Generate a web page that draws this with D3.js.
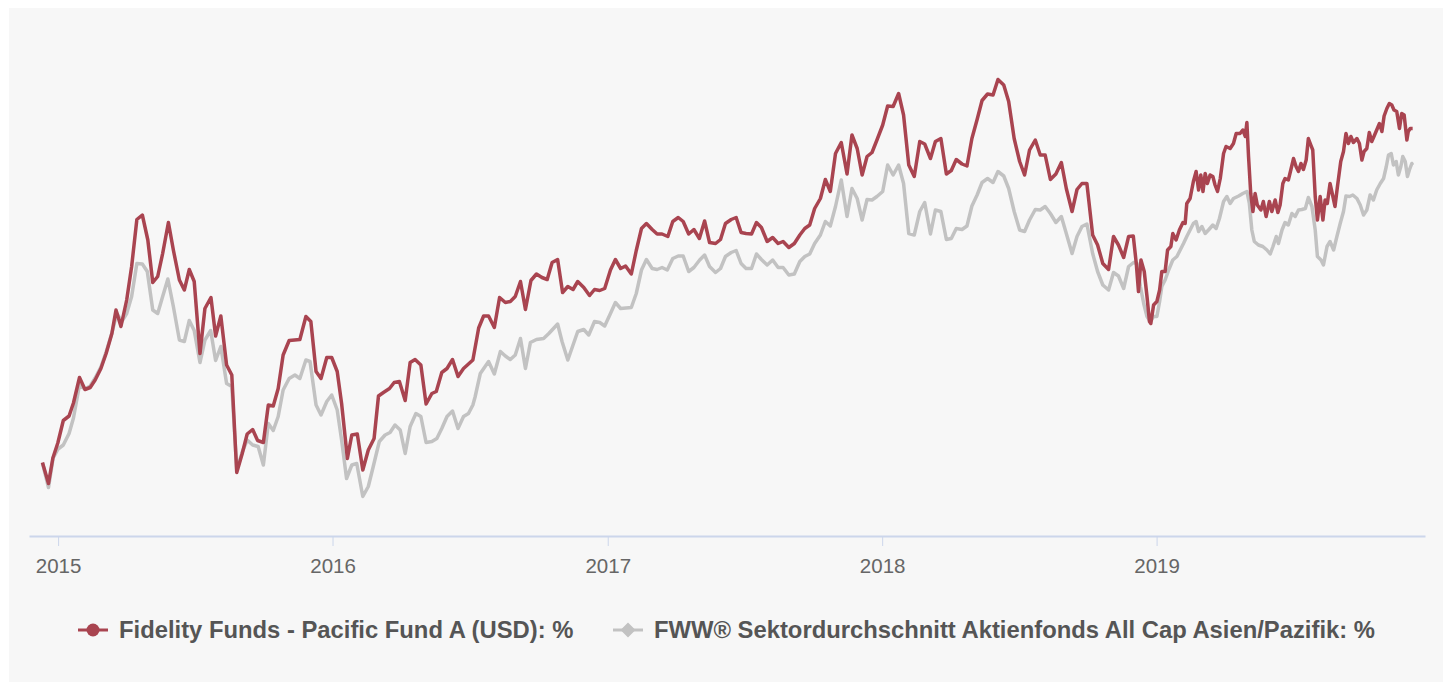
<!DOCTYPE html>
<html>
<head>
<meta charset="utf-8">
<script src="https://cdnjs.cloudflare.com/ajax/libs/d3/7.8.5/d3.min.js"></script>
<style>
  html, body { margin: 0; padding: 0; background: #fff; }
  svg { display: block; font-family: "Liberation Sans", Arial, Helvetica, sans-serif; }
</style>
</head>
<body>
<svg id="chart" width="1451" height="682"></svg>
<script>
// time is stored as decimal years, values are cumulative performance in %
const fundTime = [
  2014.943, 2014.965, 2014.981, 2014.999, 2015.019, 2015.040, 2015.056, 2015.078, 2015.098, 2015.117,
  2015.135, 2015.156, 2015.175, 2015.196, 2015.211, 2015.229, 2015.250, 2015.268, 2015.287, 2015.307,
  2015.327, 2015.345, 2015.363, 2015.381, 2015.402, 2015.420, 2015.442, 2015.460, 2015.478, 2015.496,
  2015.517, 2015.535, 2015.557, 2015.574, 2015.593, 2015.614, 2015.633, 2015.651, 2015.671, 2015.689,
  2015.709, 2015.727, 2015.748, 2015.766, 2015.784, 2015.802, 2015.820, 2015.842, 2015.881, 2015.903,
  2015.921, 2015.940, 2015.958, 2015.979, 2015.997, 2016.017, 2016.033, 2016.054, 2016.070, 2016.090,
  2016.110, 2016.130, 2016.151, 2016.167, 2016.185, 2016.207, 2016.224, 2016.243, 2016.264, 2016.282,
  2016.300, 2016.321, 2016.340, 2016.361, 2016.377, 2016.397, 2016.416, 2016.436, 2016.456, 2016.476,
  2016.510, 2016.531, 2016.549, 2016.567, 2016.588, 2016.607, 2016.628, 2016.646, 2016.664, 2016.683,
  2016.701, 2016.721, 2016.741, 2016.761, 2016.780, 2016.798, 2016.818, 2016.836, 2016.855, 2016.874,
  2016.891, 2016.913, 2016.934, 2016.952, 2016.971, 2016.989, 2017.010, 2017.028, 2017.047, 2017.065,
  2017.086, 2017.104, 2017.123, 2017.141, 2017.162, 2017.180, 2017.198, 2017.219, 2017.237, 2017.257,
  2017.275, 2017.295, 2017.314, 2017.334, 2017.353, 2017.371, 2017.393, 2017.411, 2017.429, 2017.450,
  2017.468, 2017.486, 2017.504, 2017.524, 2017.542, 2017.560, 2017.581, 2017.601, 2017.621, 2017.639,
  2017.660, 2017.680, 2017.700, 2017.718, 2017.736, 2017.754, 2017.775, 2017.793, 2017.811, 2017.830,
  2017.851, 2017.872, 2017.890, 2017.909, 2017.927, 2017.945, 2017.963, 2017.981, 2018.002, 2018.020,
  2018.040, 2018.060, 2018.078, 2018.097, 2018.117, 2018.137, 2018.155, 2018.176, 2018.194, 2018.214,
  2018.234, 2018.252, 2018.270, 2018.291, 2018.309, 2018.327, 2018.346, 2018.364, 2018.384, 2018.404,
  2018.422, 2018.443, 2018.461, 2018.481, 2018.501, 2018.519, 2018.537, 2018.558, 2018.576, 2018.594,
  2018.613, 2018.633, 2018.653, 2018.671, 2018.692, 2018.710, 2018.728, 2018.746, 2018.767, 2018.785,
  2018.804, 2018.825, 2018.843, 2018.861, 2018.880, 2018.898, 2018.915, 2018.926, 2018.934, 2018.943,
  2018.955, 2018.965, 2018.974, 2018.979, 2018.989, 2019.001, 2019.011, 2019.019, 2019.031, 2019.040,
  2019.052, 2019.059, 2019.071, 2019.083, 2019.096, 2019.104, 2019.110, 2019.122, 2019.134, 2019.144,
  2019.153, 2019.161, 2019.169, 2019.177, 2019.185, 2019.195, 2019.205, 2019.213, 2019.222, 2019.232,
  2019.244, 2019.253, 2019.268, 2019.280, 2019.290, 2019.304, 2019.314, 2019.323, 2019.329, 2019.335,
  2019.343, 2019.351, 2019.359, 2019.367, 2019.380, 2019.389, 2019.399, 2019.411, 2019.420, 2019.432,
  2019.442, 2019.450, 2019.460, 2019.468, 2019.480, 2019.489, 2019.499, 2019.508, 2019.517, 2019.526,
  2019.535, 2019.545, 2019.553, 2019.562, 2019.569, 2019.578, 2019.586, 2019.596, 2019.606, 2019.614,
  2019.622, 2019.632, 2019.642, 2019.650, 2019.659, 2019.671, 2019.681, 2019.690, 2019.699, 2019.708,
  2019.717, 2019.730, 2019.739, 2019.748, 2019.756, 2019.766, 2019.775, 2019.784, 2019.792, 2019.802,
  2019.812, 2019.821, 2019.829, 2019.839, 2019.848, 2019.857, 2019.865, 2019.875, 2019.885, 2019.893,
  2019.902, 2019.912, 2019.917, 2019.924, 2019.933
];
const fundValues = [
  0.1, -4.1, 1.0, 4.0, 8.5, 9.4, 12.0, 17.1, 14.7, 15.1,
  16.6, 18.9, 21.9, 25.9, 30.6, 27.3, 32.6, 39.3, 48.7, 49.6,
  44.6, 36.1, 37.3, 41.9, 48.1, 42.6, 36.6, 34.6, 38.7, 36.3,
  21.9, 30.9, 33.1, 25.4, 29.4, 19.6, 17.6, -1.9, 1.9, 5.8,
  6.7, 4.5, 4.1, 11.6, 11.4, 14.9, 21.6, 24.5, 24.7, 29.3,
  28.3, 18.3, 16.9, 21.1, 21.1, 18.3, 11.9, 0.9, 5.6, 5.8,
  -1.4, 2.6, 4.9, 13.4, 14.1, 14.9, 16.1, 16.3, 12.5, 20.1,
  20.7, 19.6, 11.8, 13.9, 14.3, 18.1, 18.9, 20.7, 17.3, 18.9,
  20.6, 27.0, 29.4, 29.4, 27.1, 33.1, 32.1, 32.3, 33.3, 36.3,
  30.7, 36.5, 37.8, 37.1, 36.7, 40.1, 40.7, 34.1, 35.3, 34.7,
  36.3, 35.1, 33.5, 34.7, 34.5, 34.9, 38.6, 40.7, 38.9, 39.4,
  37.8, 42.5, 46.9, 47.9, 46.7, 45.8, 45.8, 45.3, 48.3, 49.1,
  48.3, 45.8, 46.7, 44.9, 48.4, 44.1, 43.9, 44.7, 47.9, 48.7,
  49.1, 46.1, 45.9, 45.8, 48.1, 47.1, 44.3, 45.1, 43.9, 44.3,
  43.1, 43.9, 45.6, 46.9, 47.6, 50.9, 52.9, 56.7, 54.3, 61.9,
  64.1, 57.8, 65.6, 62.9, 57.6, 61.3, 62.1, 64.6, 67.6, 71.4,
  71.3, 73.9, 69.6, 59.6, 57.3, 64.3, 63.8, 60.9, 64.3, 64.9,
  57.8, 58.5, 60.7, 59.8, 59.4, 64.9, 68.7, 72.5, 73.8, 73.6,
  76.7, 75.6, 72.3, 64.9, 60.3, 57.6, 62.6, 64.6, 61.6, 61.6,
  56.7, 57.8, 60.1, 54.9, 50.3, 54.7, 55.9, 55.9, 45.6, 43.6,
  39.9, 38.7, 45.3, 43.6, 41.1, 45.3, 45.4, 39.9, 34.3, 40.6,
  38.3, 33.3, 28.3, 27.9, 31.6, 32.3, 34.6, 38.3, 38.3, 42.6,
  43.3, 45.9, 44.6, 46.6, 48.1, 47.9, 51.9, 52.9, 56.3, 58.3,
  54.6, 57.6, 54.3, 57.9, 55.9, 57.6, 57.3, 55.6, 54.3, 56.9,
  61.9, 63.3, 62.9, 63.9, 65.9, 65.9, 66.6, 65.3, 68.1, 61.3,
  53.9, 50.3, 53.9, 51.6, 50.6, 52.3, 49.3, 52.3, 50.3, 52.6,
  50.1, 51.6, 55.9, 56.9, 56.6, 58.6, 60.9, 59.3, 58.3, 59.9,
  58.7, 60.6, 64.9, 63.6, 62.6, 53.3, 48.6, 53.3, 48.6, 52.6,
  51.9, 55.9, 53.4, 51.3, 55.3, 60.3, 62.3, 65.9, 63.9, 65.3,
  64.1, 64.9, 63.9, 60.6, 62.3, 62.9, 66.1, 64.3, 65.3, 66.6,
  67.9, 66.3, 69.4, 70.9, 71.9, 71.6, 70.6, 70.3, 66.9, 69.9,
  69.6, 64.6, 66.3, 66.9, 66.9
];

const sectorTime = [
  2014.943, 2014.965, 2014.982, 2015.000, 2015.019, 2015.040, 2015.056, 2015.078, 2015.098, 2015.117,
  2015.135, 2015.156, 2015.175, 2015.196, 2015.214, 2015.232, 2015.250, 2015.268, 2015.287, 2015.307,
  2015.325, 2015.345, 2015.363, 2015.381, 2015.400, 2015.420, 2015.442, 2015.460, 2015.478, 2015.496,
  2015.517, 2015.535, 2015.556, 2015.574, 2015.593, 2015.614, 2015.633, 2015.651, 2015.671, 2015.689,
  2015.709, 2015.729, 2015.748, 2015.766, 2015.784, 2015.802, 2015.820, 2015.842, 2015.863, 2015.881,
  2015.903, 2015.918, 2015.940, 2015.958, 2015.979, 2015.997, 2016.017, 2016.033, 2016.051, 2016.070,
  2016.088, 2016.110, 2016.130, 2016.148, 2016.170, 2016.191, 2016.209, 2016.227, 2016.246, 2016.264,
  2016.282, 2016.303, 2016.321, 2016.340, 2016.361, 2016.379, 2016.397, 2016.416, 2016.436, 2016.456,
  2016.476, 2016.494, 2016.510, 2016.518, 2016.537, 2016.567, 2016.588, 2016.610, 2016.628, 2016.646,
  2016.664, 2016.683, 2016.701, 2016.719, 2016.741, 2016.767, 2016.786, 2016.818, 2016.834, 2016.855,
  2016.874, 2016.891, 2016.913, 2016.931, 2016.952, 2016.971, 2016.989, 2017.010, 2017.028, 2017.047,
  2017.086, 2017.104, 2017.123, 2017.141, 2017.162, 2017.180, 2017.198, 2017.217, 2017.237, 2017.257,
  2017.275, 2017.295, 2017.314, 2017.335, 2017.353, 2017.371, 2017.393, 2017.411, 2017.429, 2017.450,
  2017.468, 2017.486, 2017.504, 2017.524, 2017.542, 2017.560, 2017.581, 2017.601, 2017.621, 2017.639,
  2017.660, 2017.680, 2017.700, 2017.718, 2017.736, 2017.754, 2017.775, 2017.793, 2017.811, 2017.830,
  2017.851, 2017.872, 2017.890, 2017.909, 2017.927, 2017.945, 2017.963, 2017.981, 2018.002, 2018.020,
  2018.040, 2018.060, 2018.078, 2018.097, 2018.117, 2018.137, 2018.155, 2018.176, 2018.194, 2018.214,
  2018.234, 2018.252, 2018.270, 2018.291, 2018.309, 2018.327, 2018.346, 2018.364, 2018.384, 2018.404,
  2018.422, 2018.443, 2018.461, 2018.481, 2018.501, 2018.519, 2018.537, 2018.558, 2018.576, 2018.594,
  2018.613, 2018.633, 2018.653, 2018.671, 2018.692, 2018.710, 2018.728, 2018.746, 2018.767, 2018.785,
  2018.804, 2018.825, 2018.843, 2018.861, 2018.880, 2018.898, 2018.916, 2018.929, 2018.941, 2018.953,
  2018.965, 2018.977, 2018.989, 2019.001, 2019.011, 2019.019, 2019.031, 2019.044, 2019.059, 2019.074,
  2019.086, 2019.098, 2019.110, 2019.122, 2019.134, 2019.144, 2019.153, 2019.165, 2019.177, 2019.189,
  2019.205, 2019.217, 2019.229, 2019.244, 2019.256, 2019.268, 2019.280, 2019.299, 2019.314, 2019.329,
  2019.338, 2019.347, 2019.356, 2019.371, 2019.387, 2019.402, 2019.414, 2019.424, 2019.436, 2019.444,
  2019.457, 2019.468, 2019.480, 2019.493, 2019.505, 2019.517, 2019.529, 2019.542, 2019.553, 2019.566,
  2019.578, 2019.586, 2019.599, 2019.608, 2019.621, 2019.632, 2019.645, 2019.657, 2019.669, 2019.681,
  2019.690, 2019.703, 2019.715, 2019.730, 2019.742, 2019.754, 2019.766, 2019.778, 2019.790, 2019.802,
  2019.815, 2019.827, 2019.837, 2019.845, 2019.855, 2019.863, 2019.873, 2019.881, 2019.890, 2019.897,
  2019.906, 2019.914, 2019.921, 2019.930, 2019.933
];
const sectorValues = [
  0.0, -4.9, 1.0, 2.8, 3.6, 5.9, 9.0, 15.6, 14.8, 15.4,
  17.0, 19.2, 22.2, 26.0, 29.9, 28.3, 29.9, 33.3, 39.9, 39.8,
  38.3, 30.6, 29.9, 33.3, 36.8, 31.3, 24.6, 24.3, 28.5, 26.5,
  20.1, 24.6, 26.5, 20.5, 23.3, 15.9, 15.3, -1.4, 2.2, 4.6,
  3.6, 3.3, -0.4, 7.9, 6.5, 9.3, 14.6, 16.9, 17.6, 16.9,
  20.6, 20.3, 11.6, 9.6, 12.3, 13.6, 10.6, 4.6, -3.1, -0.4,
  -0.1, -6.7, -4.7, -0.7, 4.3, 5.6, 6.1, 7.6, 6.6, 1.9,
  7.3, 9.9, 9.3, 4.1, 4.3, 4.9, 6.9, 9.3, 10.4, 6.9,
  9.3, 9.9, 11.6, 13.2, 17.9, 20.3, 17.8, 22.3, 21.4, 20.7,
  21.6, 24.9, 18.9, 24.1, 24.7, 24.9, 25.9, 27.8, 24.3, 20.6,
  23.6, 26.3, 26.7, 25.6, 28.3, 28.1, 27.4, 29.9, 32.1, 30.9,
  31.1, 33.9, 38.6, 40.7, 38.9, 38.7, 39.1, 38.6, 40.9, 41.4,
  41.4, 38.3, 39.1, 40.6, 41.6, 39.3, 38.1, 38.9, 41.3, 42.1,
  42.5, 39.9, 38.9, 38.9, 41.8, 40.7, 39.6, 40.6, 39.1, 39.1,
  37.6, 37.8, 40.3, 41.3, 41.8, 43.9, 45.6, 48.3, 47.4, 51.3,
  56.6, 49.3, 54.9, 52.9, 48.6, 52.7, 52.6, 53.3, 54.3, 59.6,
  57.6, 59.6, 55.9, 45.9, 45.6, 50.3, 52.1, 45.8, 50.6, 50.3,
  44.7, 44.9, 46.9, 46.7, 47.4, 51.4, 53.6, 56.1, 56.9, 56.1,
  58.3, 57.4, 54.9, 50.3, 46.6, 46.3, 48.6, 50.7, 50.6, 51.3,
  49.9, 48.1, 49.3, 45.9, 41.9, 45.3, 47.3, 47.8, 41.9, 38.3,
  35.6, 34.6, 38.1, 37.4, 34.9, 39.3, 40.1, 39.9, 35.3, 31.9,
  29.3, 28.3, 29.3, 29.3, 32.3, 35.3, 36.6, 38.6, 40.6, 41.3,
  42.6, 43.9, 45.3, 46.6, 47.9, 48.3, 46.3, 47.3, 45.9, 46.6,
  47.6, 46.9, 48.9, 52.3, 53.3, 51.9, 52.9, 53.4, 53.9, 54.3,
  51.9, 46.6, 44.3, 43.6, 43.3, 42.6, 41.8, 43.3, 45.3, 43.9,
  46.6, 48.1, 47.6, 49.9, 49.3, 50.6, 50.7, 50.9, 53.1, 51.3,
  46.6, 41.3, 40.6, 39.6, 43.3, 44.3, 42.6, 45.3, 47.9, 50.3,
  53.4, 53.3, 53.6, 52.9, 51.6, 49.6, 50.6, 53.6, 52.6, 54.6,
  55.9, 56.9, 59.3, 61.6, 61.9, 59.6, 60.3, 57.6, 59.3, 61.3,
  60.3, 57.3, 58.6, 59.9, 59.6
];

const yearTicks = [2015, 2016, 2017, 2018, 2019];
const seriesNames = [
  "Fidelity Funds - Pacific Fund A (USD): %",
  "FWW\u00ae Sektordurchschnitt Aktienfonds All Cap Asien/Pazifik: %"
];
const seriesColors = ["#a94450", "#c2c2c2"];

// decimal year -> Date
function toDate(t) {
  const y = Math.floor(t);
  const a = new Date(y, 0, 1), b = new Date(y + 1, 0, 1);
  return new Date(+a + (t - y) * (b - a));
}

const svg = d3.select("#chart");

// panel background
svg.append("rect")
  .attr("x", 9).attr("y", 8)
  .attr("width", 1434).attr("height", 674)
  .attr("fill", "#f7f7f7");

const x = d3.scaleTime()
  .domain([toDate(2014.894), toDate(2019.978)])
  .range([29, 1425]);

const y = d3.scaleLinear()
  .domain([-14.6, 88])
  .range([536, 23]);

// x axis
const xAxis = d3.axisBottom(x)
  .tickValues(yearTicks.map(t => new Date(t, 0, 1)))
  .tickFormat(d3.timeFormat("%Y"))
  .tickSizeInner(10)
  .tickSizeOuter(0)
  .tickPadding(12);

const gx = svg.append("g")
  .attr("transform", "translate(0,536)")
  .call(xAxis);
gx.select(".domain").attr("stroke", "#ccd6eb").attr("stroke-width", 2);
gx.selectAll(".tick line").attr("stroke", "#ccd6eb").attr("stroke-width", 1);
gx.selectAll(".tick text")
  .attr("fill", "#666666")
  .style("font-size", "20.5px")
  .style("font-family", "\"Liberation Sans\", Arial, sans-serif");

const line = d3.line()
  .x(d => x(toDate(d[0])))
  .y(d => y(d[1]));

const sectorPts = d3.zip(sectorTime, sectorValues);
const fundPts = d3.zip(fundTime, fundValues);

svg.append("path")
  .datum(sectorPts)
  .attr("fill", "none")
  .attr("stroke", seriesColors[1])
  .attr("stroke-width", 3.5)
  .attr("stroke-linejoin", "round")
  .attr("d", line);

svg.append("path")
  .datum(fundPts)
  .attr("fill", "none")
  .attr("stroke", seriesColors[0])
  .attr("stroke-width", 3.5)
  .attr("stroke-linejoin", "round")
  .attr("d", line);

// legend
const legendY = 630;
const legendX = [78, 613];
const legend = svg.append("g");

seriesNames.forEach((name, i) => {
  const g = legend.append("g").attr("transform", `translate(${legendX[i]},${legendY})`);
  g.append("line")
    .attr("x1", 0).attr("x2", 30)
    .attr("y1", 0).attr("y2", 0)
    .attr("stroke", seriesColors[i])
    .attr("stroke-width", 3);
  if (i === 0) {
    g.append("circle").attr("cx", 15).attr("cy", 0).attr("r", 6.5)
      .attr("fill", seriesColors[i]);
  } else {
    g.append("path")
      .attr("d", "M15,-7.5 L22.5,0 L15,7.5 L7.5,0 Z")
      .attr("fill", seriesColors[i]);
  }
  g.append("text")
    .attr("x", 41)
    .attr("y", 8)
    .attr("fill", "#555555")
    .style("font-size", "23.8px")
    .style("font-weight", "bold")
    .text(name);
});
</script>
</body>
</html>
